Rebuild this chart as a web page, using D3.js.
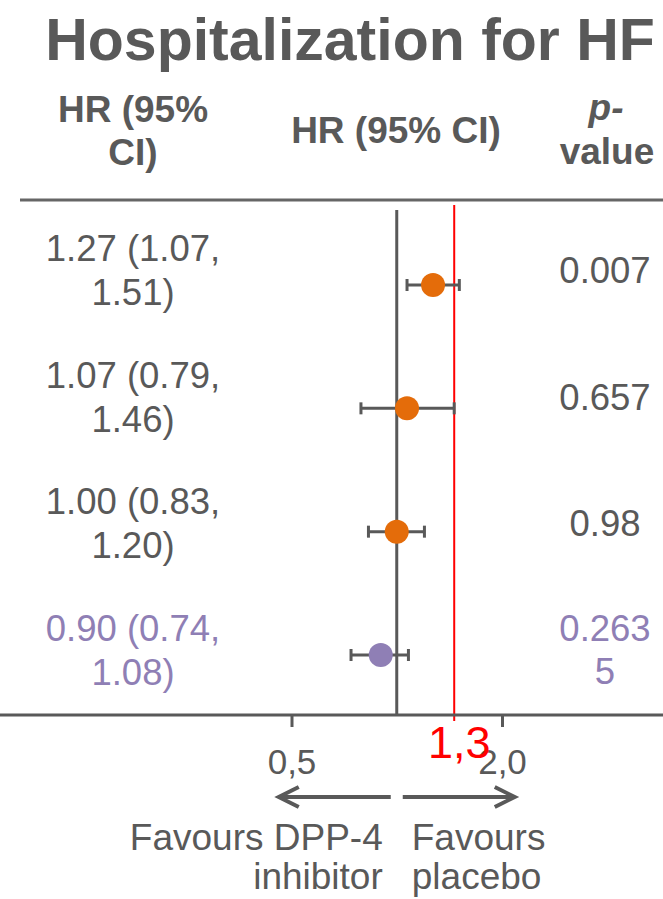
<!DOCTYPE html>
<html>
<head>
<meta charset="utf-8">
<script src="https://cdn.jsdelivr.net/npm/d3@7"></script>
<style>
  body { margin: 0; background: #fff; }
  text { font-family: "Liberation Sans", Arial, sans-serif; }
</style>
</head>
<body>
<div id="chart"></div>
<script>
// data
var rows = ["r1", "r2", "r3", "r4"];
var hr = [1.27, 1.07, 1.00, 0.90];
var ciLow = [1.07, 0.79, 0.83, 0.74];
var ciHigh = [1.51, 1.46, 1.20, 1.08];
var pValues = ["0.007", "0.657", "0.98", "0.2635"];
var highlighted = [false, false, false, true];
var tickValues = [0.5, 2.0];
var refLine = { value: 1.46, label: "1,3" };

(function() {
  var width = 663, height = 899;
  var grey = "#595959", orange = "#E46C0A", purple = "#8F7FB5";

  var svg = d3.select("#chart")
    .append("svg")
    .attr("width", width)
    .attr("height", height);

  var x = d3.scaleLog().base(2)
    .domain([0.5, 2])
    .range([291.5, 502]);

  // rows of text vs rows of markers are spaced a little differently
  var textRow = d3.scaleBand().domain(rows).range([208, 714]);
  var markRow = d3.scalePoint().domain(rows).range([285, 655]);

  var colorOf = function(i) { return highlighted[i] ? purple : grey; };

  // title
  svg.append("text")
    .attr("x", 350).attr("y", 60)
    .attr("text-anchor", "middle")
    .attr("font-size", 59).attr("font-weight", "bold")
    .attr("fill", grey)
    .text("Hospitalization for HF");

  // headers
  var head = svg.append("g")
    .attr("font-size", 37).attr("font-weight", "bold")
    .attr("fill", grey).attr("text-anchor", "middle");
  head.append("text").attr("x", 133).attr("y", 122).text("HR (95%");
  head.append("text").attr("x", 133).attr("y", 165).text("CI)");
  head.append("text").attr("x", 396).attr("y", 143).text("HR (95% CI)");
  head.append("text").attr("x", 606).attr("y", 120)
    .attr("font-style", "italic").text("p-");
  head.append("text").attr("x", 607).attr("y", 164).text("value");

  svg.append("line")
    .attr("x1", 20).attr("x2", width)
    .attr("y1", 200).attr("y2", 200)
    .attr("stroke", "#666").attr("stroke-width", 3);

  // HR text column
  rows.forEach(function(r, i) {
    var cy = textRow(r) + textRow.bandwidth() / 2;
    var g = svg.append("g")
      .attr("font-size", 36.5).attr("fill", colorOf(i))
      .attr("text-anchor", "middle");
    g.append("text").attr("x", 133).attr("y", cy - 10)
      .text(hr[i].toFixed(2) + " (" + ciLow[i].toFixed(2) + ",");
    g.append("text").attr("x", 133).attr("y", cy + 34)
      .text(ciHigh[i].toFixed(2) + ")");

    // p-values wrap at 5 characters
    var p = pValues[i];
    var lines = p.length > 5 ? [p.slice(0, 5), p.slice(5)] : [p];
    var py = cy + 12 - (lines.length - 1) * 21.5;
    lines.forEach(function(l, j) {
      g.append("text").attr("x", 605).attr("y", py + j * 43).text(l);
    });
  });

  // reference line at HR = 1
  svg.append("line")
    .attr("x1", x(1)).attr("x2", x(1))
    .attr("y1", 210).attr("y2", 715)
    .attr("stroke", grey).attr("stroke-width", 3);

  // red marker line
  svg.append("line")
    .attr("x1", x(refLine.value)).attr("x2", x(refLine.value))
    .attr("y1", 205).attr("y2", 721)
    .attr("stroke", "#ff0000").attr("stroke-width", 2);

  // error bars + points
  var pts = svg.selectAll(".pt")
    .data(rows)
    .enter().append("g")
    .attr("class", "pt")
    .attr("transform", function(d) { return "translate(0," + markRow(d) + ")"; });

  pts.append("line")
    .attr("x1", function(d, i) { return x(ciLow[i]); })
    .attr("x2", function(d, i) { return x(ciHigh[i]); })
    .attr("stroke", grey).attr("stroke-width", 3);
  [ciLow, ciHigh].forEach(function(arr) {
    pts.append("line")
      .attr("x1", function(d, i) { return x(arr[i]); })
      .attr("x2", function(d, i) { return x(arr[i]); })
      .attr("y1", -6).attr("y2", 6)
      .attr("stroke", grey).attr("stroke-width", 3);
  });
  pts.append("circle")
    .attr("cx", function(d, i) { return x(hr[i]); })
    .attr("r", 12)
    .attr("fill", function(d, i) { return highlighted[i] ? purple : orange; });

  // axis
  svg.append("line")
    .attr("x1", 0).attr("x2", width)
    .attr("y1", 715).attr("y2", 715)
    .attr("stroke", grey).attr("stroke-width", 3);

  var axis = svg.append("g")
    .attr("transform", "translate(0,715)")
    .call(d3.axisBottom(x)
      .tickValues(tickValues)
      .tickSize(12)
      .tickFormat(function(d) { return d.toFixed(1).replace(".", ","); }));
  axis.select(".domain").remove();
  axis.selectAll(".tick line").attr("stroke", grey).attr("stroke-width", 3);
  axis.selectAll(".tick text")
    .attr("y", 59).attr("dy", 0)
    .attr("fill", grey)
    .attr("font-size", 35)
    .attr("font-family", "Liberation Sans, Arial, sans-serif");

  svg.append("text")
    .attr("x", x(refLine.value) + 5).attr("y", 758)
    .attr("text-anchor", "middle")
    .attr("font-size", 45).attr("fill", "#ff0000")
    .text(refLine.label);

  // direction arrows
  var ay = 797, x1 = x(1);
  var arrows = svg.append("g")
    .attr("stroke", grey).attr("stroke-width", 4).attr("fill", "none");
  arrows.append("path")
    .attr("d", "M" + (x1 - 6) + "," + ay + "H" + (x1 - 118) +
      "M" + (x1 - 98) + "," + (ay - 10) + "L" + (x1 - 118) + "," + ay + "L" + (x1 - 98) + "," + (ay + 10));
  arrows.append("path")
    .attr("d", "M" + (x1 + 6) + "," + ay + "H" + (x1 + 118) +
      "M" + (x1 + 98) + "," + (ay - 10) + "L" + (x1 + 118) + "," + ay + "L" + (x1 + 98) + "," + (ay + 10));

  var fav = svg.append("g").attr("font-size", 37).attr("fill", grey);
  fav.append("text").attr("x", x1 - 14).attr("y", 850)
    .attr("text-anchor", "end").text("Favours DPP-4");
  fav.append("text").attr("x", x1 - 14).attr("y", 889)
    .attr("text-anchor", "end").text("inhibitor");
  fav.append("text").attr("x", x1 + 15).attr("y", 850).text("Favours");
  fav.append("text").attr("x", x1 + 15).attr("y", 889).text("placebo");
})();
</script>
</body>
</html>
